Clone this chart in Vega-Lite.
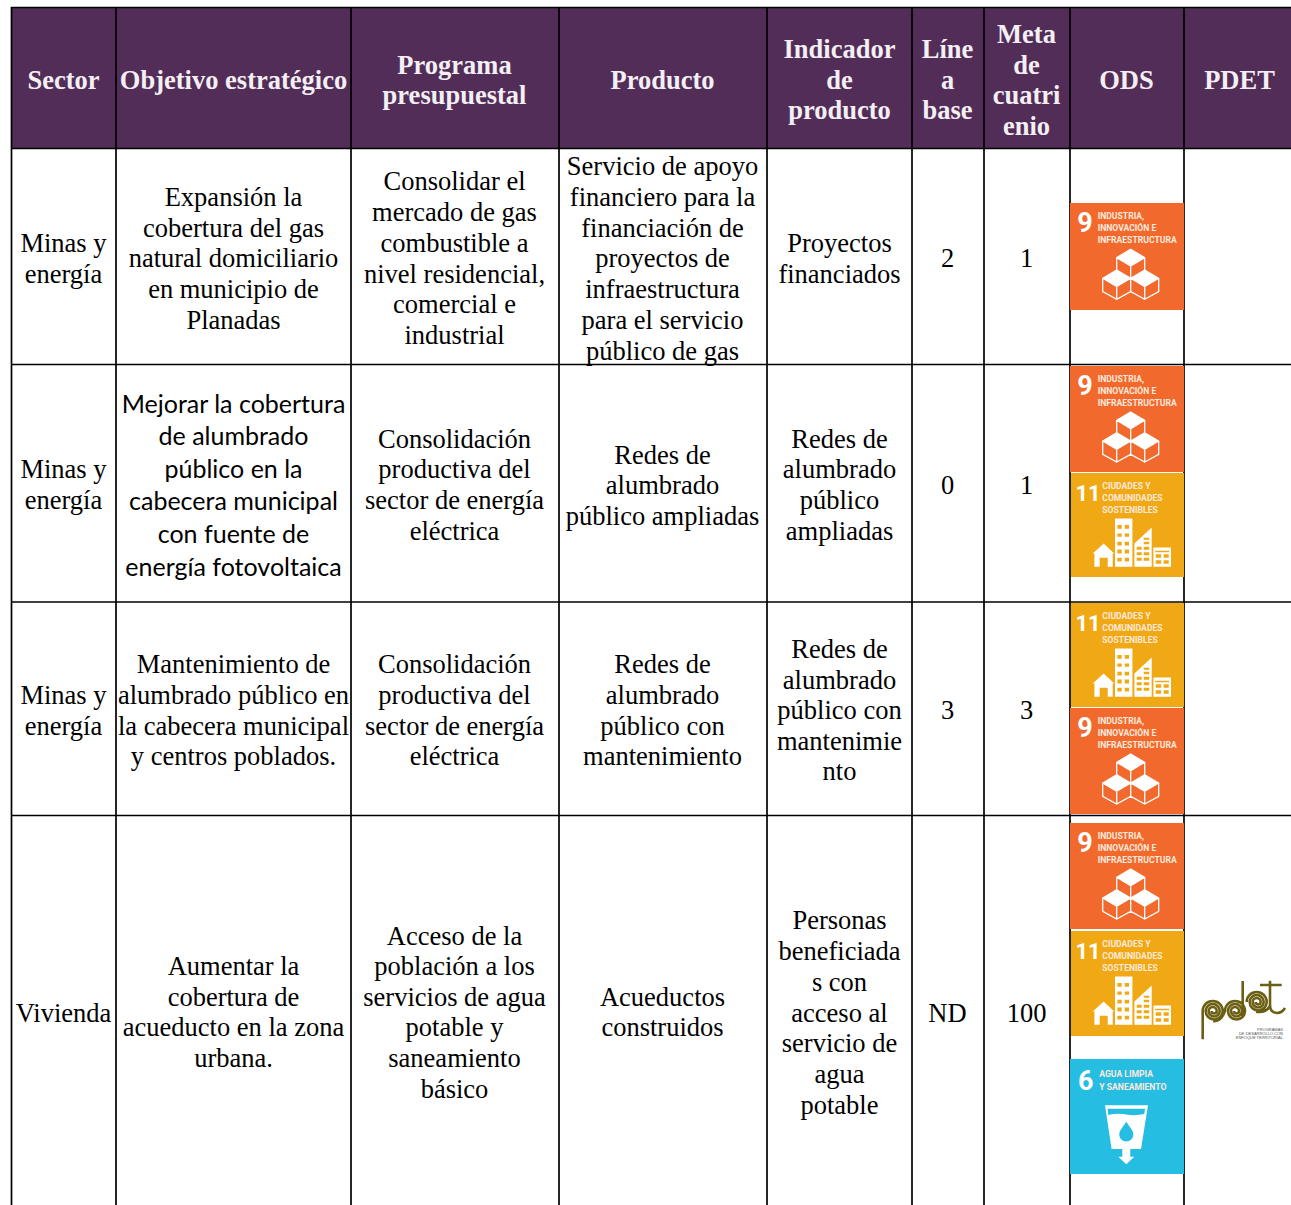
{
"$schema":"https://vega.github.io/schema/vega-lite/v6.json",
"autosize":{"type":"fit","contains":"padding"},
"width":1291,"height":1205,"padding":0,
"background":"white",
"config":{"view":{"stroke":null}},
"datasets":{
"fills":[
{"a":11,"b":1291,"c":8,"d":148,"k":"header"},
{"a":1070,"b":1184,"c":203,"d":310,"k":"ods9"},
{"a":1070,"b":1184,"c":366,"d":472,"k":"ods9"},
{"a":1071,"b":1184,"c":473,"d":577,"k":"ods11"},
{"a":1071,"b":1184,"c":603,"d":707,"k":"ods11"},
{"a":1070,"b":1184,"c":708,"d":814,"k":"ods9"},
{"a":1070,"b":1184,"c":823,"d":929,"k":"ods9"},
{"a":1071,"b":1184,"c":931,"d":1036,"k":"ods11"},
{"a":1070,"b":1184,"c":1059,"d":1174,"k":"ods6"}
],
"vlines":[{"x":11.5,"p":7,"q":1205},{"x":116,"p":7,"q":1205},{"x":351,"p":7,"q":1205},{"x":559,"p":7,"q":1205},{"x":767,"p":7,"q":1205},{"x":912,"p":7,"q":1205},{"x":984,"p":7,"q":1205},{"x":1070,"p":7,"q":1205},{"x":1184,"p":7,"q":1205}],
"hlines":[{"y":7.5,"p":11,"q":1291},{"y":148.5,"p":11,"q":1291},{"y":364.5,"p":11,"q":1291},{"y":602,"p":11,"q":1291},{"y":815.5,"p":11,"q":1291}],
"header":[
{"x":64,"y":80,"t":"Sector"},{"x":234,"y":80,"t":"Objetivo estratégico"},
{"x":455,"y":65,"t":"Programa"},{"x":455,"y":95,"t":"presupuestal"},
{"x":663,"y":80,"t":"Producto"},
{"x":840,"y":49,"t":"Indicador"},{"x":840,"y":80,"t":"de"},{"x":840,"y":110,"t":"producto"},
{"x":948,"y":49,"t":"Líne"},{"x":948,"y":80,"t":"a"},{"x":948,"y":110,"t":"base"},
{"x":1027,"y":34,"t":"Meta"},{"x":1027,"y":65,"t":"de"},{"x":1027,"y":95,"t":"cuatri"},{"x":1027,"y":126,"t":"enio"},
{"x":1127,"y":80,"t":"ODS"},{"x":1240,"y":80,"t":"PDET"}
],
"body":[
{"x":64,"y":243,"t":"Minas y"},{"x":64,"y":274,"t":"energía"},
{"x":234,"y":197,"t":"Expansión la"},{"x":234,"y":228,"t":"cobertura del gas"},{"x":234,"y":258,"t":"natural domiciliario"},{"x":234,"y":289,"t":"en municipio de"},{"x":234,"y":320,"t":"Planadas"},
{"x":455,"y":181,"t":"Consolidar el"},{"x":455,"y":212,"t":"mercado de gas"},{"x":455,"y":243,"t":"combustible a"},{"x":455,"y":274,"t":"nivel residencial,"},{"x":455,"y":304,"t":"comercial e"},{"x":455,"y":335,"t":"industrial"},
{"x":663,"y":166,"t":"Servicio de apoyo"},{"x":663,"y":197,"t":"financiero para la"},{"x":663,"y":228,"t":"financiación de"},{"x":663,"y":258,"t":"proyectos de"},{"x":663,"y":289,"t":"infraestructura"},{"x":663,"y":320,"t":"para el servicio"},{"x":663,"y":351,"t":"público de gas"},
{"x":840,"y":243,"t":"Proyectos"},{"x":840,"y":274,"t":"financiados"},
{"x":948,"y":258,"t":"2"},{"x":1027,"y":258,"t":"1"},
{"x":64,"y":469,"t":"Minas y"},{"x":64,"y":500,"t":"energía"},
{"x":455,"y":439,"t":"Consolidación"},{"x":455,"y":469,"t":"productiva del"},{"x":455,"y":500,"t":"sector de energía"},{"x":455,"y":531,"t":"eléctrica"},
{"x":663,"y":455,"t":"Redes de"},{"x":663,"y":485,"t":"alumbrado"},{"x":663,"y":516,"t":"público ampliadas"},
{"x":840,"y":439,"t":"Redes de"},{"x":840,"y":469,"t":"alumbrado"},{"x":840,"y":500,"t":"público"},{"x":840,"y":531,"t":"ampliadas"},
{"x":948,"y":485,"t":"0"},{"x":1027,"y":485,"t":"1"},
{"x":64,"y":695,"t":"Minas y"},{"x":64,"y":726,"t":"energía"},
{"x":234,"y":664,"t":"Mantenimiento de"},{"x":234,"y":695,"t":"alumbrado público en"},{"x":234,"y":726,"t":"la cabecera municipal"},{"x":234,"y":756,"t":"y centros poblados."},
{"x":455,"y":664,"t":"Consolidación"},{"x":455,"y":695,"t":"productiva del"},{"x":455,"y":726,"t":"sector de energía"},{"x":455,"y":756,"t":"eléctrica"},
{"x":663,"y":664,"t":"Redes de"},{"x":663,"y":695,"t":"alumbrado"},{"x":663,"y":726,"t":"público con"},{"x":663,"y":756,"t":"mantenimiento"},
{"x":840,"y":649,"t":"Redes de"},{"x":840,"y":680,"t":"alumbrado"},{"x":840,"y":710,"t":"público con"},{"x":840,"y":741,"t":"mantenimie"},{"x":840,"y":771,"t":"nto"},
{"x":948,"y":710,"t":"3"},{"x":1027,"y":710,"t":"3"},
{"x":64,"y":1013,"t":"Vivienda"},
{"x":234,"y":966,"t":"Aumentar la"},{"x":234,"y":997,"t":"cobertura de"},{"x":234,"y":1027,"t":"acueducto en la zona"},{"x":234,"y":1058,"t":"urbana."},
{"x":455,"y":936,"t":"Acceso de la"},{"x":455,"y":966,"t":"población a los"},{"x":455,"y":997,"t":"servicios de agua"},{"x":455,"y":1027,"t":"potable y"},{"x":455,"y":1058,"t":"saneamiento"},{"x":455,"y":1089,"t":"básico"},
{"x":663,"y":997,"t":"Acueductos"},{"x":663,"y":1027,"t":"construidos"},
{"x":840,"y":920,"t":"Personas"},{"x":840,"y":951,"t":"beneficiada"},{"x":840,"y":982,"t":"s con"},{"x":840,"y":1013,"t":"acceso al"},{"x":840,"y":1043,"t":"servicio de"},{"x":840,"y":1074,"t":"agua"},{"x":840,"y":1105,"t":"potable"},
{"x":948,"y":1013,"t":"ND"},{"x":1027,"y":1013,"t":"100"}
],
"sans":[
{"x":234,"y":404.5,"t":"Mejorar la cobertura"},{"x":234,"y":436.5,"t":"de alumbrado"},{"x":234,"y":469.5,"t":"público en la"},{"x":234,"y":501.5,"t":"cabecera municipal"},{"x":234,"y":534.5,"t":"con fuente de"},{"x":234,"y":567.5,"t":"energía fotovoltaica"}
],
"digits":[
{"x":1085,"y":224,"t":"9"},{"x":1085,"y":387,"t":"9"},{"x":1085,"y":729,"t":"9"},{"x":1085,"y":844,"t":"9"},
{"x":1085.7,"y":1082,"t":"6"}
],
"eleven":[{"x":1088,"y":493.5,"t":"11"},{"x":1088,"y":623.5,"t":"11"},{"x":1088,"y":951.5,"t":"11"}],
"labels":[
{"x":1097.7,"y":216,"t":"INDUSTRIA,"},{"x":1097.7,"y":228,"t":"INNOVACIÓN E"},{"x":1097.7,"y":240,"t":"INFRAESTRUCTURA"},
{"x":1097.7,"y":379,"t":"INDUSTRIA,"},{"x":1097.7,"y":391,"t":"INNOVACIÓN E"},{"x":1097.7,"y":403,"t":"INFRAESTRUCTURA"},
{"x":1097.7,"y":721,"t":"INDUSTRIA,"},{"x":1097.7,"y":733,"t":"INNOVACIÓN E"},{"x":1097.7,"y":745,"t":"INFRAESTRUCTURA"},
{"x":1097.7,"y":836,"t":"INDUSTRIA,"},{"x":1097.7,"y":848,"t":"INNOVACIÓN E"},{"x":1097.7,"y":860,"t":"INFRAESTRUCTURA"},
{"x":1102.3,"y":486,"t":"CIUDADES Y"},{"x":1102.3,"y":498,"t":"COMUNIDADES"},{"x":1102.3,"y":510,"t":"SOSTENIBLES"},
{"x":1102.3,"y":616,"t":"CIUDADES Y"},{"x":1102.3,"y":628,"t":"COMUNIDADES"},{"x":1102.3,"y":640,"t":"SOSTENIBLES"},
{"x":1102.3,"y":944,"t":"CIUDADES Y"},{"x":1102.3,"y":956,"t":"COMUNIDADES"},{"x":1102.3,"y":968,"t":"SOSTENIBLES"},
{"x":1099.3,"y":1074,"t":"AGUA LIMPIA"},{"x":1099.3,"y":1087,"t":"Y SANEAMIENTO"}
],
"cubes":[{"x":1130.7,"y":274.3},{"x":1130.7,"y":437},{"x":1130.7,"y":779},{"x":1130.7,"y":894}],
"cities":[{"x":1132.7,"y":542.7},{"x":1132.7,"y":672.7},{"x":1132.7,"y":1000.7}],
"glass":[{"x":1126.3,"y":1135}],
"logo":[{"x":1240,"y":1010}],
"tiny":[{"x":1283,"y":1030,"t":"PROGRAMAS"},{"x":1283,"y":1034,"t":"DE DESARROLLO CON"},{"x":1283,"y":1038,"t":"ENFOQUE TERRITORIAL"}]
},
"encoding":{
"x":{"field":"x","type":"quantitative","axis":null,"scale":{"domain":[0,1291],"nice":false,"zero":false}},
"y":{"field":"y","type":"quantitative","axis":null,"scale":{"domain":[0,1205],"nice":false,"zero":false,"reverse":true}}
},
"layer":[
{"data":{"name":"fills"},"mark":{"type":"rect"},
 "encoding":{
 "x":{"field":"a","type":"quantitative"},"x2":{"field":"b"},
 "y":{"field":"c","type":"quantitative"},"y2":{"field":"d"},
 "color":{"field":"k","type":"nominal","legend":null,"scale":{"domain":["header","ods9","ods11","ods6"],"range":["#522d57","#f2692d","#f0a814","#26bde2"]}}}},
{"data":{"name":"vlines"},"mark":{"type":"rule","stroke":"black","strokeWidth":1.7,"clip":true},
 "encoding":{"y":{"field":"p","type":"quantitative"},"y2":{"field":"q"}}},
{"data":{"name":"hlines"},"mark":{"type":"rule","stroke":"black","strokeWidth":1.4,"clip":true},
 "encoding":{"x":{"field":"p","type":"quantitative"},"x2":{"field":"q"}}},
{"data":{"name":"fills"},"transform":[{"filter":"datum.k != 'header'"}],"mark":{"type":"rect"},
 "encoding":{
 "x":{"field":"a","type":"quantitative"},"x2":{"field":"b"},
 "y":{"field":"c","type":"quantitative"},"y2":{"field":"d"},
 "color":{"field":"k","type":"nominal","legend":null,"scale":{"domain":["header","ods9","ods11","ods6"],"range":["#522d57","#f2692d","#f0a814","#26bde2"]}}}},
{"data":{"name":"header"},"mark":{"type":"text","font":"Liberation Serif","fontWeight":"bold","fontSize":26.5,"color":"#f4eff5","align":"center","baseline":"middle","dy":1,"dx":-0.5},
 "encoding":{"text":{"field":"t","type":"nominal"}}},
{"data":{"name":"body"},"mark":{"type":"text","font":"Liberation Serif","fontSize":26.5,"color":"black","align":"center","baseline":"middle","dy":1,"dx":-0.5},
 "encoding":{"text":{"field":"t","type":"nominal"}}},
{"data":{"name":"sans"},"mark":{"type":"text","font":"Lato","fontSize":25,"color":"black","align":"center","baseline":"middle","dx":-0.5},
 "encoding":{"text":{"field":"t","type":"nominal"}}},
{"data":{"name":"digits"},"mark":{"type":"text","font":"Roboto","fontWeight":"bold","fontSize":27,"color":"white","align":"center","baseline":"middle"},
 "encoding":{"text":{"field":"t","type":"nominal"}}},
{"data":{"name":"eleven"},"mark":{"type":"text","font":"Roboto","fontWeight":"bold","fontSize":22,"color":"white","align":"center","baseline":"middle"},
 "encoding":{"text":{"field":"t","type":"nominal"}}},
{"data":{"name":"labels"},"mark":{"type":"text","font":"Roboto","fontWeight":"bold","fontSize":8.6,"color":"#fde9dc","align":"left","baseline":"middle"},
 "encoding":{"text":{"field":"t","type":"nominal"}}},
{"data":{"name":"cubes"},"mark":{"type":"point","filled":true,"fill":"white","opacity":1,"size":4,"strokeWidth":0,"shape":"M0 -25 L14 -16.7 L0 -8.3 L-14 -16.7 Z M-14 -4.3 L0 4 L-14 12.3 L-28 4 Z M14 -4.3 L28 4 L14 12.3 L0 4 Z"}},
{"data":{"name":"cubes"},"mark":{"type":"point","filled":false,"stroke":"white","opacity":1,"size":4,"strokeWidth":1.3,"shape":"M0 -25 L14 -16.7 V-2.7 L0 5.6 L-14 -2.7 V-16.7 Z M-14 -16.7 L0 -8.3 L14 -16.7 M0 -8.3 V5.6 M-14 -4.3 L0 4 V17.3 L-14 25 L-28 17.3 V4 Z M-28 4 L-14 12.3 L0 4 M-14 12.3 V25 M14 -4.3 L28 4 V17.3 L14 25 L0 17.3 V4 Z M0 4 L14 12.3 L28 4 M14 12.3 V25"}},
{"data":{"name":"cities"},"mark":{"type":"point","filled":true,"fill":"white","opacity":1,"size":4,"strokeWidth":0,"shape":"M-29 0.7 L-18.5 10.7 H-20 V24 H-25 V15 H-33 V24 H-38.3 V10.7 H-40 Z M-17.7 -24.3 H-0.3 V24 H-17.7 Z M-15.3 -17.7 V-14 H-11 V-17.7 Z M-8 -17.7 V-14 H-3.7 V-17.7 Z M-15.3 -9.3 V-6 H-11 V-9.3 Z M-8 -9.3 V-6 H-3.7 V-9.3 Z M-15.3 -1 V2.7 H-11 V-1 Z M-8 -1 V2.7 H-3.7 V-1 Z M-15.3 6.7 V10.7 H-11 V6.7 Z M-8 6.7 V10.7 H-3.7 V6.7 Z M-15.3 15 V18.7 H-11 V15 Z M-8 15 V18.7 H-3.7 V15 Z M1.7 0.7 L19 -15.3 V24 H1.7 Z M4 4 V7 H9 V4 Z M11 4 V7 H16.5 V4 Z M4 9.5 V12.5 H9 V9.5 Z M11 9.5 V12.5 H16.5 V9.5 Z M4 15 V18 H9 V15 Z M11 15 V18 H16.5 V15 Z M11 -5 V-3 H16.5 V-5 Z M11 -1 V1.5 H16.5 V-1 Z M20.7 4.7 H38.3 V24 H20.7 Z M22.5 8 V9.5 H36.5 V8 Z M23 11.5 V15 H28.5 V11.5 Z M31 11.5 V15 H36 V11.5 Z M23 17.5 V21 H28.5 V17.5 Z M31 17.5 V21 H36 V17.5 Z"}},
{"data":{"name":"glass"},"mark":{"type":"point","filled":true,"fill":"white","opacity":1,"size":4,"strokeWidth":0,"shape":"M-21.3 -29.7 H21.7 L14.7 14 H4 V21.7 H8 L0 29.3 L-8 21.7 H-4 V14 H-14.7 Z M-18.7 -26.3 L-18 -20 Q-9 -22 0 -20.5 Q9 -19 18 -21 L18.7 -26.3 Z M0 -13.5 C-3 -8 -7 -5 -7 -0.5 A7 7 0 0 0 7 -0.5 C7 -5 3 -8 0 -13.5 Z"}},
{"data":{"name":"logo"},"mark":{"type":"point","filled":false,"stroke":"#6b5f13","opacity":1,"size":4,"strokeWidth":2.6,"shape":"M-37.3 29.3 V1 A10 10 0 0 1 -17.3 1 A8.5 8.5 0 0 1 -34.3 1 A7 7 0 0 1 -20.3 1 A5.5 5.5 0 0 1 -31.3 1 A4 4 0 0 1 -23.3 1 A2.5 2.5 0 0 1 -28.3 1 M-27 11 Q-19 12 -15 1 A10 10 0 0 1 5 1 A8.5 8.5 0 0 1 -12 1 A7 7 0 0 1 2 1 A5.5 5.5 0 0 1 -9 1 A4 4 0 0 1 -1 1 A2.5 2.5 0 0 1 -6 1 M2.7 -29 V6.7 M6.7 -8 A10 10 0 0 1 26.7 -8 A8.5 8.5 0 0 1 9.7 -8 A7 7 0 0 1 23.7 -8 A5.5 5.5 0 0 1 12.7 -8 A4 4 0 0 1 20.7 -8 A2.5 2.5 0 0 1 15.7 -8 M16 1.7 Q26 3 30 -4 M30 -29.3 V-5 Q30 3 37 3 Q42 3 45 -2 M20 -25 H41.7"}},
{"data":{"name":"tiny"},"mark":{"type":"text","font":"Liberation Sans","fontSize":4,"color":"#555555","align":"right","baseline":"middle"},
 "encoding":{"text":{"field":"t","type":"nominal"}}}
]
}
